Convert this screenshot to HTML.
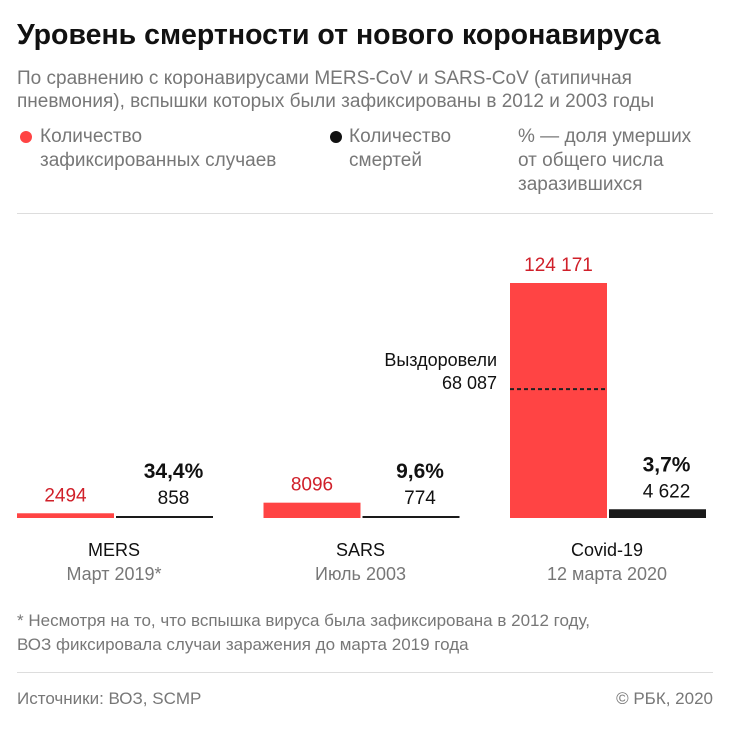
<!DOCTYPE html>
<html><head><meta charset="utf-8">
<style>
body{margin:0;width:730px;height:730px;background:#fff;font-family:"Liberation Sans","DejaVu Sans",sans-serif;position:relative;overflow:hidden}
.t{position:absolute;white-space:nowrap}
.g{color:#777}
</style></head><body>
<div class="t" style="left:17px;top:19px;font-size:28.5px;font-weight:bold;color:#111">Уровень смертности от нового коронавируса</div>
<div class="t g" style="left:17px;top:67px;font-size:19px;line-height:23px">По сравнению с коронавирусами MERS-CoV и SARS-CoV (атипичная<br>пневмония), вспышки которых были зафиксированы в 2012 и 2003 годы</div>
<div>
<div class="t" style="left:20px;top:131px;width:12px;height:12px;border-radius:50%;background:#ff4444"></div>
<div class="t g" style="left:40px;top:125px;font-size:19px;line-height:24px">Количество<br>зафиксированных случаев</div></div>
<div>
<div class="t" style="left:330px;top:131px;width:12px;height:12px;border-radius:50%;background:#111"></div>
<div class="t g" style="left:349px;top:125px;font-size:19px;line-height:24px">Количество<br>смертей</div></div>
<div class="t g" style="left:518px;top:125px;font-size:19px;line-height:24px">% — доля умерших<br>от общего числа<br>заразившихся</div>
<div class="t" style="left:17px;top:213px;width:696px;height:1px;background:#ddd"></div>
<svg id="chart" width="730" height="730" style="position:absolute;left:0;top:0"></svg>
<div class="t g" style="left:17px;top:609px;font-size:17px;line-height:24px">* Несмотря на то, что вспышка вируса была зафиксирована в 2012 году,<br>ВОЗ фиксировала случаи заражения до марта 2019 года</div>
<div class="t" style="left:17px;top:672px;width:696px;height:1px;background:#ddd"></div>
<div class="t g" style="left:17px;top:689px;font-size:17px">Источники: ВОЗ, SCMP</div>
<div class="t g" style="right:17px;top:689px;font-size:17px">© РБК, 2020</div>
<script>
const categories=["MERS","SARS","Covid-19"];
const subLabels=["Март 2019*","Июль 2003","12 марта 2020"];
const cases=[2494,8096,124171];
const deaths=[858,774,4622];
const caseLabels=["2494","8096","124 171"];
const deathLabels=["858","774","4 622"];
const percentLabels=["34,4%","9,6%","3,7%"];
const recovered=[null,null,68087];
const recoveredLabel="68 087";
const svg=document.getElementById('chart');
const NS="http://www.w3.org/2000/svg";
const base=518, maxH=235, maxV=Math.max(...cases);
const y=v=>base-Math.max(maxH*v/maxV,2);
const groupX=i=>17+i*246.5;
const barW=97;
function mk(tag,a,txt){const e=document.createElementNS(NS,tag);for(const k in a)e.setAttribute(k,a[k]);if(txt!=null)e.textContent=txt;svg.appendChild(e);return e;}
categories.forEach((c,i)=>{
 const x=groupX(i);
 const r=mk('rect',{x:x,y:y(cases[i]),width:barW,height:base-y(cases[i]),fill:'#ff4444'});
 
 
 const bx=x+barW+2;
 const b=mk('rect',{x:bx,y:y(deaths[i]),width:barW,height:base-y(deaths[i]),fill:'#1a1a1a'});
 
 
 const cl=mk('text',{x:x+barW/2,y:y(cases[i])-12,'text-anchor':'middle','font-size':19,fill:'#d0202a'},caseLabels[i]);
 
 
 const dl=mk('text',{x:bx+barW/2+9,y:y(deaths[i])-12,'text-anchor':'middle','font-size':19,fill:'#111'},deathLabels[i]);
 
 
 const pl=mk('text',{x:bx+barW/2+9,y:y(deaths[i])-38,'text-anchor':'middle','font-size':21,'font-weight':'bold',fill:'#111'},percentLabels[i]);
 
 
 const cx=x+barW;
 const t1=mk('text',{x:cx,y:556,'text-anchor':'middle','font-size':18,fill:'#111'},c);
 
 
 const t2=mk('text',{x:cx,y:580,'text-anchor':'middle','font-size':18,fill:'#777'},subLabels[i]);
 
 
 if(recovered[i]!=null){
  const ry=base-maxH*recovered[i]/maxV;
  const l=mk('line',{x1:x,x2:x+barW,y1:ry,y2:ry,stroke:'#222','stroke-width':2,'stroke-dasharray':'4,3'});
  
  
  const a=mk('text',{x:x-13,y:ry-23,'text-anchor':'end','font-size':18,fill:'#111'},'Выздоровели');
  
  
  const v=mk('text',{x:x-13,y:ry,'text-anchor':'end','font-size':18,fill:'#111'},recoveredLabel);
  
  
 }
});
</script>
</body></html>
